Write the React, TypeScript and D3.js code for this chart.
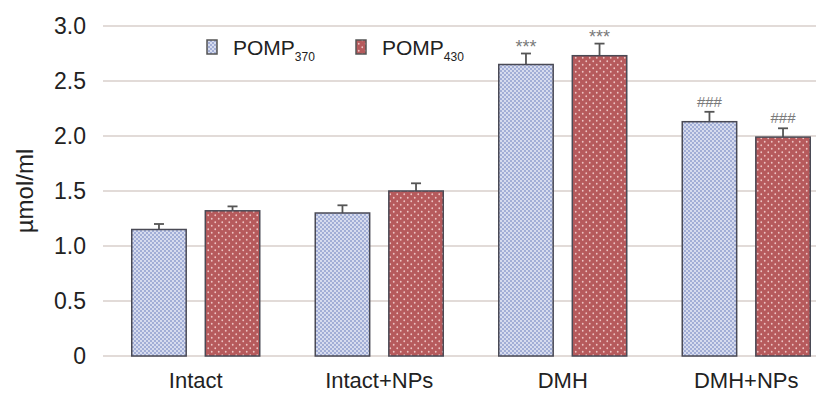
import { useEffect, useRef } from 'react';
import * as d3 from 'd3';

const groups = ['Intact', 'Intact+NPs', 'DMH', 'DMH+NPs'];
const seriesNames = ['370', '430'];
const pomp370 = [1.15, 1.30, 2.65, 2.13];
const pomp370Err = [0.05, 0.07, 0.10, 0.09];
const pomp430 = [1.32, 1.50, 2.73, 1.99];
const pomp430Err = [0.04, 0.07, 0.11, 0.08];
const marks370 = ['', '', '***', '###'];
const marks430 = ['', '', '***', '###'];
const yTicks = [0, 0.5, 1.0, 1.5, 2.0, 2.5, 3.0];

const W = 827;
const H = 394;

export default function App() {
  const ref = useRef<SVGSVGElement | null>(null);

  useEffect(() => {
    const el = ref.current;
    if (!el) return;
    const svg = d3.select(el);
    svg.selectAll('*').remove();

    const defs = svg.append('defs');
    const pb = defs.append('pattern').attr('id', 'pBlue').attr('patternUnits', 'userSpaceOnUse')
      .attr('width', 4).attr('height', 4);
    pb.append('rect').attr('width', 4).attr('height', 4).attr('fill', '#a2aed6');
    pb.append('circle').attr('cx', 1).attr('cy', 1).attr('r', 0.9).attr('fill', '#f0f2fa');
    pb.append('circle').attr('cx', 3).attr('cy', 3).attr('r', 0.9).attr('fill', '#f0f2fa');
    const pr = defs.append('pattern').attr('id', 'pRed').attr('patternUnits', 'userSpaceOnUse')
      .attr('width', 7).attr('height', 7);
    pr.append('rect').attr('width', 7).attr('height', 7).attr('fill', '#b65a5c');
    pr.append('circle').attr('cx', 1.75).attr('cy', 1.75).attr('r', 0.9).attr('fill', '#eec4c4');
    pr.append('circle').attr('cx', 5.25).attr('cy', 5.25).attr('r', 0.9).attr('fill', '#eec4c4');

    const y = d3.scaleLinear().domain([0, 3]).range([356, 26]);
    const x0 = d3.scaleBand<string>().domain(groups).range([104, 838]);
    const x1 = d3.scaleBand<string>().domain(seriesNames).range([-64, 64]).paddingInner(0.26);

    const font = 'Liberation Sans, Arial, sans-serif';

    // grid
    svg.append('g').selectAll('line').data(yTicks).join('line')
      .attr('x1', 103).attr('x2', 816)
      .attr('y1', (d) => y(d)).attr('y2', (d) => y(d))
      .attr('stroke', '#e2dbd8').attr('stroke-width', 2);

    svg.append('g').selectAll('text').data(yTicks).join('text')
      .attr('x', 86).attr('y', (d) => y(d) + 8)
      .attr('text-anchor', 'end')
      .attr('font-family', font).attr('font-size', 23).attr('fill', '#222')
      .text((d) => (d === 0 ? '0' : d.toFixed(1)));

    svg.append('text')
      .attr('transform', `translate(33,${y(1.5)}) rotate(-90)`)
      .attr('text-anchor', 'middle')
      .attr('font-family', font).attr('font-size', 24).attr('fill', '#222')
      .text('µmol/ml');

    svg.append('g').selectAll('text').data(groups).join('text')
      .attr('x', (d) => (x0(d) ?? 0) + x0.bandwidth() / 2)
      .attr('y', 388)
      .attr('text-anchor', 'middle')
      .attr('font-family', font).attr('font-size', 22).attr('fill', '#222')
      .text((d) => d);

    const series = [
      { key: '370', vals: pomp370, errs: pomp370Err, marks: marks370, fill: 'url(#pBlue)' },
      { key: '430', vals: pomp430, errs: pomp430Err, marks: marks430, fill: 'url(#pRed)' },
    ];

    series.forEach((s) => {
      const g = svg.append('g');
      const cx = (i: number) => (x0(groups[i]) ?? 0) + x0.bandwidth() / 2 + (x1(s.key) ?? 0);
      const bw = x1.bandwidth();
      g.selectAll('line.err').data(s.vals).join('line')
        .attr('x1', (_, i) => cx(i) + bw / 2).attr('x2', (_, i) => cx(i) + bw / 2)
        .attr('y1', (d) => y(d)).attr('y2', (d, i) => y(d + s.errs[i]))
        .attr('stroke', '#555').attr('stroke-width', 1.8);
      g.selectAll('line.cap').data(s.vals).join('line')
        .attr('x1', (_, i) => cx(i) + bw / 2 - 5).attr('x2', (_, i) => cx(i) + bw / 2 + 5)
        .attr('y1', (d, i) => y(d + s.errs[i])).attr('y2', (d, i) => y(d + s.errs[i]))
        .attr('stroke', '#555').attr('stroke-width', 1.8);
      g.selectAll('rect').data(s.vals).join('rect')
        .attr('x', (_, i) => cx(i)).attr('width', bw)
        .attr('y', (d) => y(d)).attr('height', (d) => y(0) - y(d))
        .attr('fill', s.fill).attr('stroke', '#4a4a55').attr('stroke-width', 1.5);
      g.selectAll('text').data(s.vals).join('text')
        .attr('x', (_, i) => cx(i) + bw / 2)
        .attr('y', (d, i) => y(d + s.errs[i]) - (s.marks[i] === '***' ? 1 : 5))
        .attr('text-anchor', 'middle')
        .attr('font-family', font).attr('font-size', (_, i) => (s.marks[i] === '***' ? 18 : 15))
        .attr('fill', '#7a7a7a')
        .text((_, i) => s.marks[i]);
    });

    // legend
    const leg = [
      { x: 207, fill: 'url(#pBlue)', sub: '370' },
      { x: 356, fill: 'url(#pRed)', sub: '430' },
    ];
    leg.forEach((l) => {
      svg.append('rect').attr('x', l.x).attr('y', 40).attr('width', 10).attr('height', 14)
        .attr('fill', l.fill).attr('stroke', '#555').attr('stroke-width', 1.5);
      const t = svg.append('text').attr('x', l.x + 26).attr('y', 55)
        .attr('font-family', font).attr('font-size', 21).attr('fill', '#222');
      t.append('tspan').text('POMP');
      t.append('tspan').attr('dy', 6).attr('font-size', 12).text(l.sub);
    });
  }, []);

  return (
    <svg ref={ref} width={W} height={H} style={{ position: 'absolute', left: 0, top: 0, background: '#fff' }} />
  );
}
